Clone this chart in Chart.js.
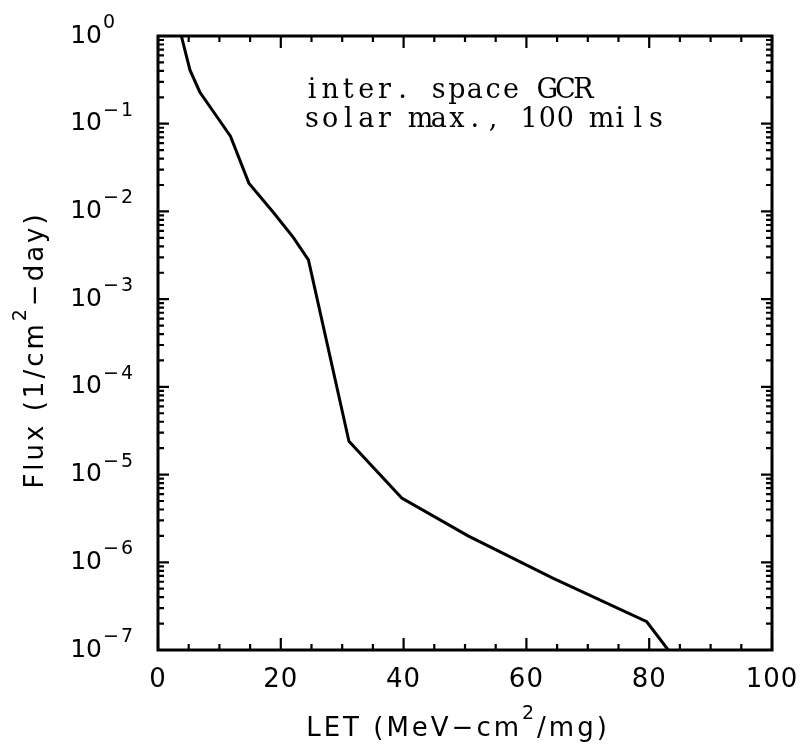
<!DOCTYPE html>
<html>
<head>
<meta charset="utf-8">
<script src="https://cdn.jsdelivr.net/npm/chart.js@4.4.1/dist/chart.umd.min.js"></script>
<style>
  html, body { margin: 0; padding: 0; background: #fff; }
  #wrap { width: 800px; height: 745px; position: relative; }
</style>
</head>
<body>
<div id="wrap"><canvas id="fluxChart"></canvas></div>
<script>
// LET (MeV-cm2/mg)
const letValues = [3.8, 5.2, 6.8, 9.6, 11.8, 14.8, 18.7, 22.0, 24.5, 31.1, 39.7, 50.5, 64.3, 79.6, 83.1];
// Flujo integral (1/cm2-day)
const fluxValues = [1.0, 0.41, 0.23, 0.12, 0.072, 0.021, 0.0099, 0.0051, 0.0028, 2.4e-5, 5.4e-6, 2.0e-6, 6.6e-7, 2.1e-7, 1.0e-7];

// Marcas de los ejes
const xMajorTicks = [0, 20, 40, 60, 80, 100];
const xMinorStep = 5;
const yDecades = [0, -1, -2, -3, -4, -5, -6, -7];

const annotationLines = ['inter. space GCR', 'solar max., 100 mils'];

// Dibuja texto con separación de letras y un superíndice opcional
function drawRich(ctx, parts, x, y, spacing) {
    let cx = x;
    parts.forEach(p => {
        ctx.font = p.sup ? '19px "DejaVu Sans"' : '26px "DejaVu Sans"';
        ctx.letterSpacing = spacing + 'px';
        ctx.fillText(p.t, cx, p.sup ? y - 17 : y);
        cx += ctx.measureText(p.t).width;
    });
    return cx - x;
}
function richWidth(ctx, parts, spacing) {
    let w = 0;
    parts.forEach(p => {
        ctx.font = p.sup ? '19px "DejaVu Sans"' : '26px "DejaVu Sans"';
        ctx.letterSpacing = spacing + 'px';
        w += ctx.measureText(p.t).width;
    });
    return w;
}

const framePlugin = {
    id: 'framePlugin',
    afterDraw(chart) {
        const ctx = chart.ctx;
        const area = chart.chartArea;
        const xs = chart.scales.x;
        const ys = chart.scales.y;
        ctx.save();
        ctx.strokeStyle = '#000';
        ctx.fillStyle = '#000';
        ctx.lineWidth = 3;
        ctx.strokeRect(area.left, area.top, area.right - area.left, area.bottom - area.top);

        // Marcas del eje X (abajo y arriba)
        ctx.lineWidth = 2.2;
        ctx.beginPath();
        for (let v = 0; v <= 100; v += xMinorStep) {
            const px = xs.getPixelForValue(v);
            const len = xMajorTicks.includes(v) ? 12 : 6;
            ctx.moveTo(px, area.bottom); ctx.lineTo(px, area.bottom - len);
            ctx.moveTo(px, area.top); ctx.lineTo(px, area.top + len);
        }
        // Marcas del eje Y logarítmico (izquierda y derecha)
        yDecades.forEach(d => {
            const py = ys.getPixelForValue(Math.pow(10, d));
            ctx.moveTo(area.left, py); ctx.lineTo(area.left + 11, py);
            ctx.moveTo(area.right, py); ctx.lineTo(area.right - 11, py);
            if (d > -7) {
                for (let m = 2; m <= 9; m++) {
                    const pm = ys.getPixelForValue(m * Math.pow(10, d - 1));
                    ctx.moveTo(area.left, pm); ctx.lineTo(area.left + 6, pm);
                    ctx.moveTo(area.right, pm); ctx.lineTo(area.right - 6, pm);
                }
            }
        });
        ctx.stroke();

        // Etiquetas del eje X
        ctx.font = '26px "DejaVu Sans"';
        ctx.letterSpacing = '1px';
        ctx.textAlign = 'center';
        ctx.textBaseline = 'alphabetic';
        xMajorTicks.forEach(v => {
            ctx.fillText(String(v), xs.getPixelForValue(v), area.bottom + 37);
        });

        // Etiquetas del eje Y: 10 con exponente
        yDecades.forEach(d => {
            const py = ys.getPixelForValue(Math.pow(10, d));
            ctx.font = '25px "DejaVu Sans"';
            ctx.letterSpacing = '0px';
            ctx.textAlign = 'right';
            ctx.textBaseline = 'middle';
            ctx.fillText('10', area.left - 56, py);
            ctx.font = '19px "DejaVu Sans"';
            ctx.letterSpacing = '2px';
            ctx.textAlign = 'left';
            ctx.textBaseline = 'alphabetic';
            ctx.fillText(d === 0 ? '0' : '\u2212' + Math.abs(d), area.left - 55, py - 8);
        });
        ctx.letterSpacing = '0px';

        // Título del eje X
        ctx.textAlign = 'left';
        ctx.textBaseline = 'alphabetic';
        const xTitle = [{t: 'LET (MeV\u2212cm'}, {t: '2', sup: true}, {t: '/mg)'}];
        const xw = richWidth(ctx, xTitle, 3);
        drawRich(ctx, xTitle, (area.left + area.right) / 2 - 7 - xw / 2, area.bottom + 86, 3);

        // Título del eje Y (rotado)
        const yTitle = [{t: 'Flux (1/cm'}, {t: '2', sup: true}, {t: '\u2212day)'}];
        const yw = richWidth(ctx, yTitle, 3);
        ctx.save();
        ctx.translate(43, (area.top + area.bottom) / 2 + 7);
        ctx.rotate(-Math.PI / 2);
        drawRich(ctx, yTitle, -yw / 2, 0, 3);
        ctx.restore();

        // Anotación en tipografía monoespaciada con serifas
        ctx.font = '27px "DejaVu Serif"';
        ctx.letterSpacing = '0px';
        ctx.textAlign = 'center';
        annotationLines.forEach((line, i) => {
            for (let k = 0; k < line.length; k++) {
                ctx.fillText(line[k], 303 + 9 + k * 18.1, 98 + i * 29);
            }
        });
        ctx.restore();
    }
};

const ctx = document.getElementById('fluxChart').getContext('2d');
const fluxChart = new Chart(ctx, {
    type: 'line',
    data: {
        datasets: [{
            data: letValues.map((v, i) => ({ x: v, y: fluxValues[i] })),
            borderColor: '#000',
            borderWidth: 3,
            pointRadius: 0,
            tension: 0,
            fill: false
        }]
    },
    options: {
        responsive: true,
        maintainAspectRatio: false,
        animation: false,
        layout: { padding: { left: 158, top: 36, right: 28, bottom: 95 } },
        scales: {
            x: { type: 'linear', min: 0, max: 100, display: false },
            y: { type: 'logarithmic', min: 1e-7, max: 1, display: false }
        },
        plugins: {
            legend: { display: false },
            tooltip: { enabled: false }
        }
    },
    plugins: [framePlugin]
});
</script>
</body>
</html>
